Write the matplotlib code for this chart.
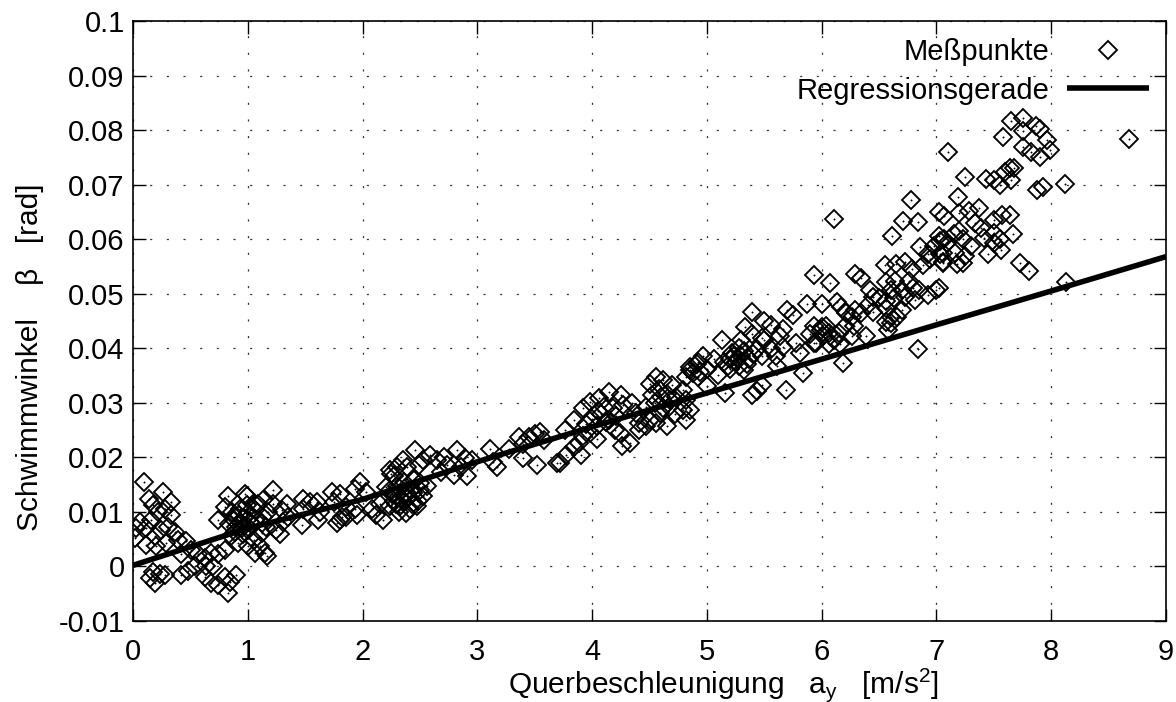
import matplotlib
matplotlib.use("Agg")
import matplotlib.pyplot as plt

plt.rcParams['font.family'] = ['Liberation Sans', 'DejaVu Sans']
plt.rcParams['mathtext.default'] = 'regular'
plt.rcParams['lines.scale_dashes'] = False

# Querbeschleunigung a_y [m/s^2] and Schwimmwinkel beta [rad] of the measured points
ay_mess = [
    0.093, 0.26, 0.137, 0.334, 0.174, 0.218, 0.276, 0.334, 0.058, 0.029,
    0.014, 0.116, 0.16, 0.189, 0.247, 0.305, 0.363, 0.116, 0.2, 0.29,
    0.392, 0.465, 0.508, 0.421, 0.566, 0.624, 0.682, 0.74, 0.798, 0.639,
    0.697, 0.174, 0.232, 0.145, 0.189, 0.276, 0.421, 0.479, 0.537, 0.624,
    0.682, 0.74, 0.827, 0.842, 0.9, 0.798,
    0.827, 0.972, 0.74, 0.798, 0.885, 0.943, 1.0, 1.06, 0.856, 0.914,
    1.0, 1.06, 1.12, 1.09, 0.88, 0.92, 0.95, 0.90, 0.97, 1.0,
    0.93, 0.86, 0.96, 0.89, 1.02, 0.84, 0.99,
    1.222, 0.99, 1.135, 1.06, 1.222, 1.339, 1.3, 1.18, 1.13, 1.06,
    1.0, 1.31, 1.35, 1.25, 1.28, 1.16, 1.12, 1.05, 1.106, 1.48,
    1.54, 1.48, 1.6, 1.63, 1.61, 1.47, 1.73, 1.8, 1.75, 1.86,
    1.93, 1.95, 1.8, 1.78, 1.82, 1.86, 1.93, 1.98, 2.03, 2.08,
    2.12, 2.18, 2.25, 2.3, 2.2, 2.26, 2.29, 2.15, 1.15, 1.17,
    2.24, 2.27, 2.355, 2.46, 2.39, 2.49, 2.53, 2.59, 2.65, 2.71,
    2.74, 2.68, 2.82, 2.89, 2.95, 2.86, 2.91, 2.8, 3.11, 3.17,
    3.14, 3.28, 3.36, 3.4, 3.4, 3.52, 3.45, 3.5, 3.55, 3.58,
    3.69, 2.3, 2.36, 2.42, 2.33, 2.38, 2.47, 2.53, 2.5, 2.45,
    2.29, 2.24, 2.24, 2.56, 2.35, 2.40, 2.44, 2.38, 2.32, 2.41,
    2.48, 2.36, 2.43, 2.27, 2.50, 2.39,
    3.72, 3.77, 3.9, 3.84, 3.76, 3.84, 3.92, 3.98, 4.06, 4.15,
    4.1, 4.25, 4.27, 4.21, 4.15, 4.04, 3.98, 4.04, 3.92, 3.89,
    4.26, 4.33, 4.2, 4.24, 4.38, 4.41, 4.47, 4.35, 4.5, 4.56,
    4.62, 4.65, 4.7, 4.73, 4.79, 4.82, 4.85, 4.79, 4.82, 4.67,
    4.59, 4.56, 4.65, 4.5, 4.47, 4.41, 4.85, 4.91, 4.88, 4.82,
    4.92, 4.0, 4.08, 4.12, 4.18, 4.05, 3.95, 4.55, 4.6, 4.62,
    4.68, 4.72, 4.52, 4.58,
    5.93, 5.39, 5.87, 6.0, 5.33, 5.5, 5.56, 5.7, 5.75, 5.66,
    5.13, 5.3, 5.39, 5.48, 5.5, 5.64, 5.66, 5.56, 5.44, 5.32,
    5.24, 5.15, 5.06, 4.97, 4.92, 4.85, 4.94, 5.0, 5.1, 5.2,
    5.28, 5.37, 5.48, 5.6, 5.78, 5.81, 5.9, 5.95, 6.0, 5.84,
    5.61, 5.69, 5.44, 5.39, 5.48, 5.16, 5.0, 5.2, 5.25, 5.3,
    5.22, 5.35, 5.28, 5.18, 5.32, 5.27, 5.4,
    6.78, 6.11, 6.71, 6.84, 6.61, 7.02, 7.07, 7.03, 7.09, 6.86,
    6.93, 7.03, 7.06, 6.55, 6.65, 6.73, 6.79, 6.88, 6.29, 6.34,
    6.07, 6.56, 6.64, 6.76, 6.6, 6.7, 6.8, 6.85, 6.93, 7.02,
    6.42, 6.45, 6.5, 6.56, 6.63, 6.73, 6.81, 6.13, 6.17, 6.21,
    6.29, 6.26, 6.34, 6.4, 6.45, 6.56, 6.6, 6.66, 6.7, 6.56,
    6.6, 6.58, 5.93, 5.99, 6.04, 6.01, 6.06, 6.11, 6.15, 6.2,
    6.28, 6.26, 6.39, 6.06, 6.16, 5.93, 6.19, 6.84,
    7.65, 7.75, 7.75, 7.87, 7.9, 7.58, 7.1, 7.75, 7.82, 7.96,
    7.99, 7.9, 7.25, 7.43, 7.5, 7.55, 7.6, 7.64, 7.68, 7.65,
    7.88, 7.93, 8.12, 7.19, 7.2, 7.28, 7.37, 7.5, 7.57, 7.64,
    7.34, 7.39, 7.02, 7.07, 7.15, 7.2, 7.23, 7.3, 7.41, 7.5,
    7.55, 7.67, 6.98, 7.06, 7.16, 7.25, 7.45, 7.5, 7.56, 6.94,
    7.06, 7.18, 7.23, 7.73, 7.81, 7.0, 8.13, 8.68,
]
beta_mess = [
    0.0155, 0.0136, 0.0124, 0.0118, 0.0112, 0.0100, 0.0106, 0.0094, 0.0082, 0.0070,
    0.0052, 0.0070, 0.0085, 0.0055, 0.0067, 0.0073, 0.0064, 0.0040, 0.0037, 0.0043,
    0.0049, 0.0046, 0.0031, 0.0022, 0.0022, 0.0016, 0.0025, 0.0022, 0.0031, 0.0000,
    0.0000, -0.0010, -0.0013, -0.0021, -0.0031, -0.0016, -0.0016, -0.0008, 0.0001, -0.0019,
    -0.0031, -0.0034, -0.0049, -0.0028, -0.0016, -0.0019,
    0.0130, 0.0133, 0.0085, 0.0109, 0.0091, 0.0079, 0.0067, 0.0103, 0.0055, 0.0043,
    0.0037, 0.0025, 0.0079, 0.0115, 0.0085, 0.0095, 0.0070, 0.0072, 0.0088, 0.0098,
    0.0105, 0.0100, 0.0060, 0.0063, 0.0082, 0.0078, 0.0112,
    0.0141, 0.0130, 0.0121, 0.0115, 0.0115, 0.0115, 0.0103, 0.0099, 0.0091, 0.0085,
    0.0073, 0.0082, 0.0091, 0.0067, 0.0059, 0.0073, 0.0061, 0.0049, 0.0037, 0.0124,
    0.0118, 0.0106, 0.0118, 0.0100, 0.0085, 0.0076, 0.0136, 0.0133, 0.0118, 0.0109,
    0.0106, 0.0094, 0.0085, 0.0079, 0.0091, 0.0091, 0.0142, 0.0155, 0.0136, 0.0106,
    0.0094, 0.0085, 0.0170, 0.0182, 0.0145, 0.0133, 0.0115, 0.0115, 0.0025, 0.0020,
    0.0177, 0.0165, 0.0195, 0.0213, 0.0183, 0.0186, 0.0195, 0.0204, 0.0195, 0.0201,
    0.0186, 0.0174, 0.0213, 0.0198, 0.0195, 0.0183, 0.0165, 0.0168, 0.0216, 0.0183,
    0.0192, 0.0216, 0.0237, 0.0225, 0.0198, 0.0186, 0.0237, 0.0243, 0.0246, 0.0231,
    0.0189, 0.0147, 0.0129, 0.0141, 0.0110, 0.0098, 0.0110, 0.0129, 0.0153, 0.0159,
    0.0129, 0.0141, 0.0110, 0.0147, 0.0120, 0.0125, 0.0135, 0.0145, 0.0100, 0.0105,
    0.0120, 0.0155, 0.0115, 0.0120, 0.0140, 0.0135,
    0.0189, 0.0204, 0.0204, 0.0219, 0.0250, 0.0268, 0.0290, 0.0301, 0.0308, 0.0320,
    0.0293, 0.0314, 0.0296, 0.0275, 0.0269, 0.0257, 0.0245, 0.0233, 0.0239, 0.0226,
    0.0220, 0.0226, 0.0250, 0.0245, 0.0281, 0.0263, 0.0293, 0.0299, 0.0335, 0.0347,
    0.0341, 0.0317, 0.0332, 0.0311, 0.0323, 0.0305, 0.0287, 0.0287, 0.0269, 0.0293,
    0.0281, 0.0263, 0.0257, 0.0269, 0.0257, 0.0251, 0.0366, 0.0372, 0.0354, 0.0347,
    0.0347, 0.0270, 0.0280, 0.0265, 0.0290, 0.0285, 0.0262, 0.0300, 0.0310, 0.0290,
    0.0305, 0.0280, 0.0315, 0.0325,
    0.0534, 0.0466, 0.0481, 0.0482, 0.0439, 0.0450, 0.0442, 0.0470, 0.0461, 0.0436,
    0.0415, 0.0415, 0.0427, 0.0418, 0.0415, 0.0423, 0.0402, 0.0398, 0.0398, 0.0395,
    0.0386, 0.0374, 0.0380, 0.0386, 0.0374, 0.0360, 0.0356, 0.0362, 0.0351, 0.0362,
    0.0368, 0.0380, 0.0386, 0.0386, 0.0409, 0.0391, 0.0427, 0.0409, 0.0439, 0.0354,
    0.0368, 0.0324, 0.0321, 0.0315, 0.0333, 0.0318, 0.0330, 0.0380, 0.0375, 0.0385,
    0.0392, 0.0372, 0.0400, 0.0368, 0.0360, 0.0382, 0.0390,
    0.0671, 0.0637, 0.0633, 0.0631, 0.0606, 0.0649, 0.0643, 0.0597, 0.0593, 0.0585,
    0.0573, 0.0573, 0.0559, 0.0552, 0.0555, 0.0558, 0.0546, 0.0552, 0.0537, 0.0528,
    0.0519, 0.0522, 0.0523, 0.0523, 0.0507, 0.0507, 0.0510, 0.0507, 0.0497, 0.0510,
    0.0507, 0.0494, 0.0492, 0.0486, 0.0492, 0.0494, 0.0488, 0.0485, 0.0476, 0.0464,
    0.0470, 0.0458, 0.0464, 0.0479, 0.0467, 0.0473, 0.0458, 0.0458, 0.0470, 0.0449,
    0.0446, 0.0433, 0.0440, 0.0434, 0.0440, 0.0422, 0.0428, 0.0416, 0.0428, 0.0440,
    0.0440, 0.0423, 0.0422, 0.0407, 0.0407, 0.0410, 0.0373, 0.0398,
    0.0817, 0.0823, 0.0799, 0.0808, 0.0802, 0.0788, 0.0760, 0.0769, 0.0760, 0.0781,
    0.0764, 0.0751, 0.0714, 0.0711, 0.0708, 0.0700, 0.0724, 0.0730, 0.0730, 0.0708,
    0.0690, 0.0696, 0.0702, 0.0678, 0.0648, 0.0651, 0.0657, 0.0636, 0.0645, 0.0645,
    0.0630, 0.0621, 0.0606, 0.0600, 0.0609, 0.0615, 0.0600, 0.0587, 0.0603, 0.0612,
    0.0600, 0.0609, 0.0587, 0.0575, 0.0575, 0.0569, 0.0572, 0.0593, 0.0581, 0.0563,
    0.0557, 0.0554, 0.0557, 0.0557, 0.0542, 0.0506, 0.0522, 0.0783,
]

# Regressionskurve
ay_reg = [0, 1, 2, 3, 4, 5, 6, 7, 8, 9]
beta_reg = [0.0002, 0.0070, 0.0123, 0.0192, 0.0256, 0.0318, 0.0380, 0.0443, 0.0505, 0.0568]

x_ticks = [0, 1, 2, 3, 4, 5, 6, 7, 8, 9]
x_ticklabels = ['0', '1', '2', '3', '4', '5', '6', '7', '8', '9']
y_ticks = [-0.01, 0.0, 0.01, 0.02, 0.03, 0.04, 0.05, 0.06, 0.07, 0.08, 0.09, 0.1]
y_ticklabels = ['-0.01', '0', '0.01', '0.02', '0.03', '0.04', '0.05',
                '0.06', '0.07', '0.08', '0.09', '0.1']

FS = 21
FS_LABEL = 21.5

fig = plt.figure(figsize=(11.76, 7.02), dpi=100)
ax = fig.add_axes([0.1131, 0.1154, 0.8784, 0.8547])

ax.plot(ay_mess, beta_mess, ls='none', marker='D', ms=8.8, mfc='none',
        mec='black', mew=1.35, label='Meßpunkte', zorder=3)
ax.plot(ay_mess, beta_mess, ls='none', marker='o', ms=1.0, mfc='black',
        mec='black', mew=0.3, zorder=3)
ax.plot(ay_reg, beta_reg, color='black', lw=4.0, solid_capstyle='butt',
        label='Regressionsgerade', zorder=4)

ax.set_xlim(0, 9)
ax.set_ylim(-0.01, 0.1)
ax.set_xticks(x_ticks)
ax.set_xticklabels(x_ticklabels)
ax.set_yticks(y_ticks)
ax.set_yticklabels(y_ticklabels)

ax.tick_params(direction='in', length=9, width=1.0, top=True, right=True,
               labelsize=FS, colors='black')
ax.tick_params(axis='x', pad=12)
ax.tick_params(axis='y', pad=6)

ax.grid(True, color='#333333', lw=0.9, linestyle=(0, (1.5, 10.5)))
ax.set_axisbelow(True)
for sp in ax.spines.values():
    sp.set_linewidth(1.2)

ax.set_xlabel('Querbeschleunigung   a$_y$   [m/s$^2$]', fontsize=FS_LABEL)
ax.xaxis.set_label_coords(0.572, -0.107)
ax.set_ylabel('Schwimmwinkel    β   [rad]', fontsize=FS_LABEL)
ax.yaxis.set_label_coords(-0.0997, 0.44)
ax.xaxis.label.set_verticalalignment('center')
ax.yaxis.label.set_verticalalignment('center')

ax.legend(loc='upper right', frameon=False, markerfirst=False, fontsize=FS,
          handlelength=2.8, handletextpad=0.6, labelspacing=0.35,
          borderpad=0.0, borderaxespad=0.6, numpoints=1)

fig.savefig('out.png', dpi=100)
